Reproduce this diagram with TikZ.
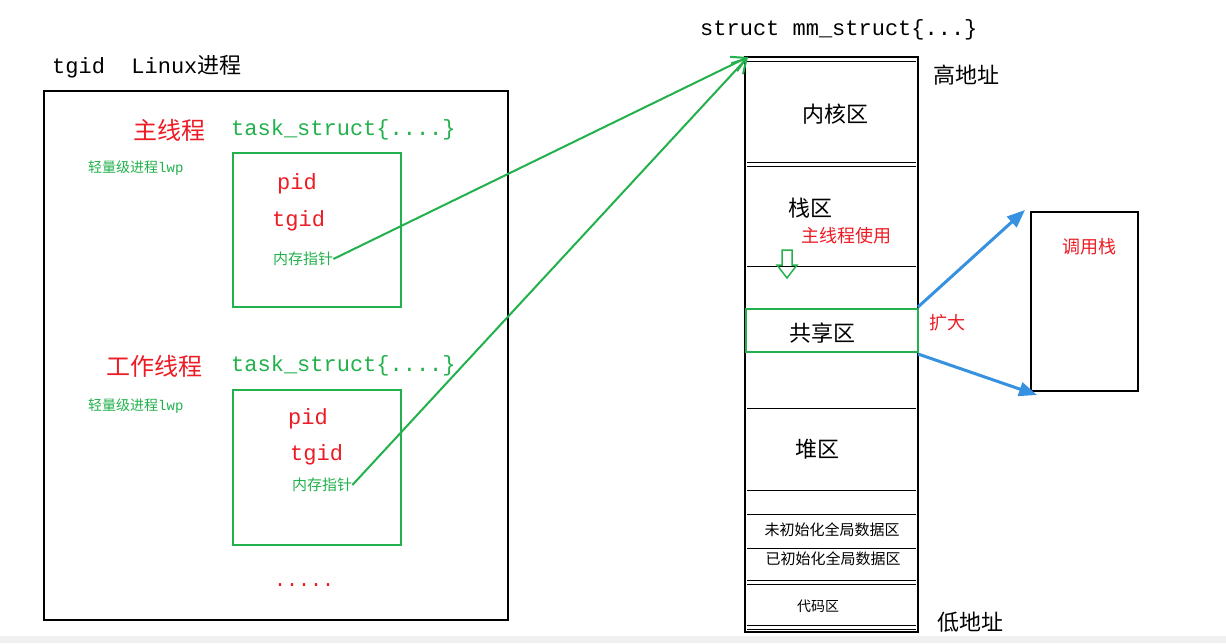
\documentclass[tikz,border=0pt]{standalone}
\usepackage{fontspec}
\setmainfont{Liberation Serif}
\setmonofont{Liberation Mono}
\newfontfamily\cjk{Noto Sans CJK SC}
\usetikzlibrary{arrows.meta}
\definecolor{gr}{RGB}{34,177,76}
\definecolor{rd}{RGB}{237,28,36}
\definecolor{bl}{RGB}{55,145,225}
\begin{document}
\begin{tikzpicture}[x=1pt,y=-1pt,
  fs/.style={font=\fontsize{#1}{#1}\selectfont},
  lbl/.style={inner sep=0pt,anchor=west},
  garrow/.style={draw=gr,line width=2pt,-{Straight Barb[length=14pt,width=16pt,line width=2pt]}},
  barrow/.style={draw=bl,line width=3pt,-{Triangle[length=18pt,width=14pt]}}]
\useasboundingbox (0,0) rectangle (1226,643);
\fill[white] (0,0) rectangle (1226,643);
\fill[black!6] (0,636) rectangle (1226,643);
% left
\node[lbl,fs=22] (tt) at (52,67) {\ttfamily tgid\ \ Linux{\cjk 进程}};
\draw[line width=2pt] (44,91) rectangle (508,620);
\node[lbl,fs=24,text=rd] (m1) at (133,130) {\cjk 主线程};
\node[lbl,fs=22,text=gr] (t1) at (231,130) {\ttfamily task\_struct\{....\}};
\node[lbl,fs=14,text=gr] (l1) at (88,168) {\cjk 轻量级进程\ttfamily lwp};
\draw[gr,line width=2pt] (233,153) rectangle (401,307);
\node[lbl,fs=22,text=rd] (p1) at (277,184) {\ttfamily pid};
\node[lbl,fs=22,text=rd] (g1) at (272,221) {\ttfamily tgid};
\node[lbl,fs=15,text=gr] (n1) at (273,259) {\cjk 内存指针};
\node[lbl,fs=24,text=rd] (m2) at (106,366) {\cjk 工作线程};
\node[lbl,fs=22,text=gr] (t2) at (231,366) {\ttfamily task\_struct\{....\}};
\node[lbl,fs=14,text=gr] (l2) at (88,406) {\cjk 轻量级进程\ttfamily lwp};
\draw[gr,line width=2pt] (233,390) rectangle (401,545);
\node[lbl,fs=22,text=rd] (p2) at (288,419) {\ttfamily pid};
\node[lbl,fs=22,text=rd] (g2) at (290,455) {\ttfamily tgid};
\node[lbl,fs=15,text=gr] (n2) at (292,485) {\cjk 内存指针};
\node[lbl,fs=20,text=rd] (dots) at (274,585) {\ttfamily .....};
% right column
\node[lbl,fs=22] (mm) at (700,30) {\ttfamily struct mm\_struct\{...\}};
\draw[line width=2pt] (745,57) rectangle (918,632);
\coordinate (top) at (748,57);
\foreach \y in {61,162,166,580,584,625,629}{\draw[line width=1pt] (747,\y) -- (916,\y);}
\foreach \y in {266,408,490,514,548}{\draw[line width=0.8pt] (747,\y) -- (916,\y);}
\node[lbl,fs=22] (hi) at (933,75) {\cjk 高地址};
\node[lbl,fs=22] (lo) at (937,622) {\cjk 低地址};
\node[fs=22] (k) at (835,114) {\cjk 内核区};
\node[fs=22] (s) at (810,208) {\cjk 栈区};
\node[lbl,fs=18,text=rd] (mu) at (801,236) {\cjk 主线程使用};
\draw[gr,line width=1.5pt] (782,250) -- (792,250) -- (792,265) -- (797,265) -- (787,278) -- (777,265) -- (782,265) -- cycle;
\draw[gr,line width=2pt] (746,309) rectangle (918,352);
\node[fs=22] (sh) at (822,333) {\cjk 共享区};
\node[fs=22] (hp) at (817,449) {\cjk 堆区};
\node[fs=15] (u1) at (832,530) {\cjk 未初始化全局数据区};
\node[fs=15] (u2) at (833,559) {\cjk 已初始化全局数据区};
\node[fs=14] (cd) at (818,606) {\cjk 代码区};
\node[lbl,fs=18,text=rd] (kd) at (929,323) {\cjk 扩大};
% call stack
\draw[line width=2pt] (1031,212) rectangle (1138,391);
\node[fs=18,text=rd] (cs) at (1089,247) {\cjk 调用栈};
\coordinate (b1) at (1025,210);
\coordinate (b2) at (1037,395);
\draw[barrow] (918,307) -- (b1);
\draw[barrow] (918,354) -- (b2);
% green pointers
\draw[garrow] (n1.east) -- (top);
\draw[garrow] (n2.east) -- (top);
\end{tikzpicture}
\end{document}
